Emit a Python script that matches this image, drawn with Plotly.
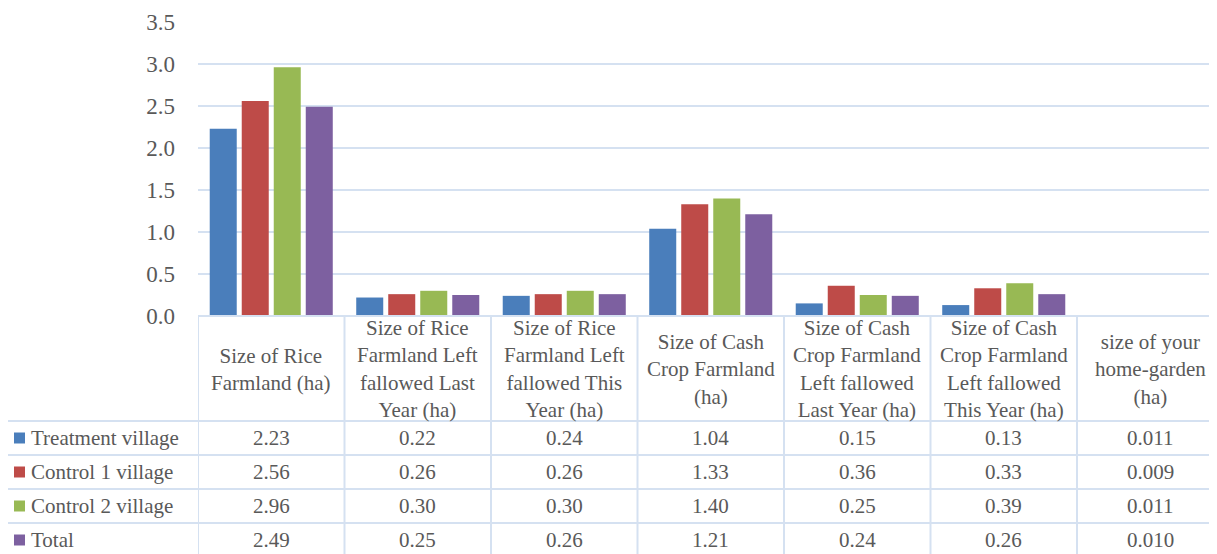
import plotly.graph_objects as go

categories = [
    "Size of Rice<br>Farmland (ha)",
    "Size of Rice<br>Farmland Left<br>fallowed Last<br>Year (ha)",
    "Size of Rice<br>Farmland Left<br>fallowed This<br>Year (ha)",
    "Size of Cash<br>Crop Farmland<br>(ha)",
    "Size of Cash<br>Crop Farmland<br>Left fallowed<br>Last Year (ha)",
    "Size of Cash<br>Crop Farmland<br>Left fallowed<br>This Year (ha)",
    "size of your<br>home-garden<br>(ha)",
]
series_names = ["Treatment village", "Control 1 village", "Control 2 village", "Total"]
treatment = [2.23, 0.22, 0.24, 1.04, 0.15, 0.13, 0.011]
control1 = [2.56, 0.26, 0.26, 1.33, 0.36, 0.33, 0.009]
control2 = [2.96, 0.30, 0.30, 1.40, 0.25, 0.39, 0.011]
total = [2.49, 0.25, 0.26, 1.21, 0.24, 0.26, 0.010]
y_ticks = [0.0, 0.5, 1.0, 1.5, 2.0, 2.5, 3.0, 3.5]

series = [treatment, control1, control2, total]
colors = ["#4a7ebb", "#be4b48", "#98b954", "#7d60a0"]
fmts = ["{:.2f}"] * 6 + ["{:.3f}"]

# page has an 8px body margin, so the figure is shifted by that much
OFF = 8
W, H = 1217 - OFF, 554 - OFF
L, T, B, R = 198, 22, 316, 1217    # plot area edges in page pixels
text_col = "#595959"
line_col = "#d5e1f1"
font_fam = "Liberation Serif, DejaVu Serif, serif"
tsize = 21

def px(x):
    return (x - L) / (R - L)

def py(y):
    return (B - y) / (B - T)

fig = go.Figure()
idx = list(range(len(categories)))
for name, vals, c in zip(series_names, series, colors):
    fig.add_trace(go.Bar(x=idx, y=vals, name=name, marker=dict(color=c, line_width=0)))

shapes = []
annotations = []

# table horizontal lines
row_lines = [421, 455, 489, 523]
for y in row_lines:
    shapes.append(dict(type="line", xref="paper", yref="paper", x0=px(5), x1=1.0,
                       y0=py(y), y1=py(y), line=dict(color=line_col, width=2)))
# vertical lines: category boundaries
for i in range(len(categories)):
    shapes.append(dict(type="line", xref="x", yref="paper", x0=i - 0.5, x1=i - 0.5,
                       y0=py(316), y1=py(560), line=dict(color=line_col, width=2)))
shapes.append(dict(type="line", xref="paper", yref="paper", x0=px(5), x1=px(5),
                   y0=py(421), y1=py(560), line=dict(color=line_col, width=2)))
shapes.append(dict(type="line", xref="paper", yref="paper", x0=0, x1=1,
                   y0=0, y1=0, line=dict(color=line_col, width=2)))

# header labels
for i, cat in enumerate(categories):
    annotations.append(dict(x=i, y=py(369), xref="x", yref="paper", text=cat,
                            showarrow=False, align="center", yanchor="middle",
                            font=dict(size=tsize, color=text_col, family=font_fam)))

# data rows
row_centers = [438, 472, 506, 540]
for r, (name, vals, c) in enumerate(zip(series_names, series, colors)):
    yc = row_centers[r]
    shapes.append(dict(type="rect", xref="paper", yref="paper", x0=px(14), x1=px(25),
                       y0=py(yc - 5.5), y1=py(yc + 5.5), fillcolor=c, line_width=0))
    annotations.append(dict(x=px(29), y=py(yc), xref="paper", yref="paper", text=name,
                            showarrow=False, xanchor="left", yanchor="middle",
                            font=dict(size=tsize, color=text_col, family=font_fam)))
    for i, v in enumerate(vals):
        annotations.append(dict(x=i, y=py(yc), xref="x", yref="paper", text=fmts[i].format(v),
                                showarrow=False, yanchor="middle",
                                font=dict(size=tsize, color=text_col, family=font_fam)))

fig.update_layout(
    width=W, height=H,
    margin=dict(l=L - OFF, r=0, t=T - OFF, b=H - (B - OFF)),
    paper_bgcolor="white", plot_bgcolor="white",
    barmode="group", bargap=0.126, bargroupgap=0.156,
    showlegend=False,
    xaxis=dict(range=[-0.5, -0.5 + (R - L) / 146.5], showticklabels=False,
               showgrid=False, zeroline=False, showline=False),
    yaxis=dict(range=[0, 3.5], tickvals=y_ticks, tickformat=".1f",
               gridcolor=line_col, gridwidth=2, zeroline=False, showline=False,
               tickfont=dict(size=23, color=text_col, family=font_fam),
               ticklabelstandoff=22),
    shapes=shapes,
    annotations=annotations,
)

fig.write_html("out.html")
